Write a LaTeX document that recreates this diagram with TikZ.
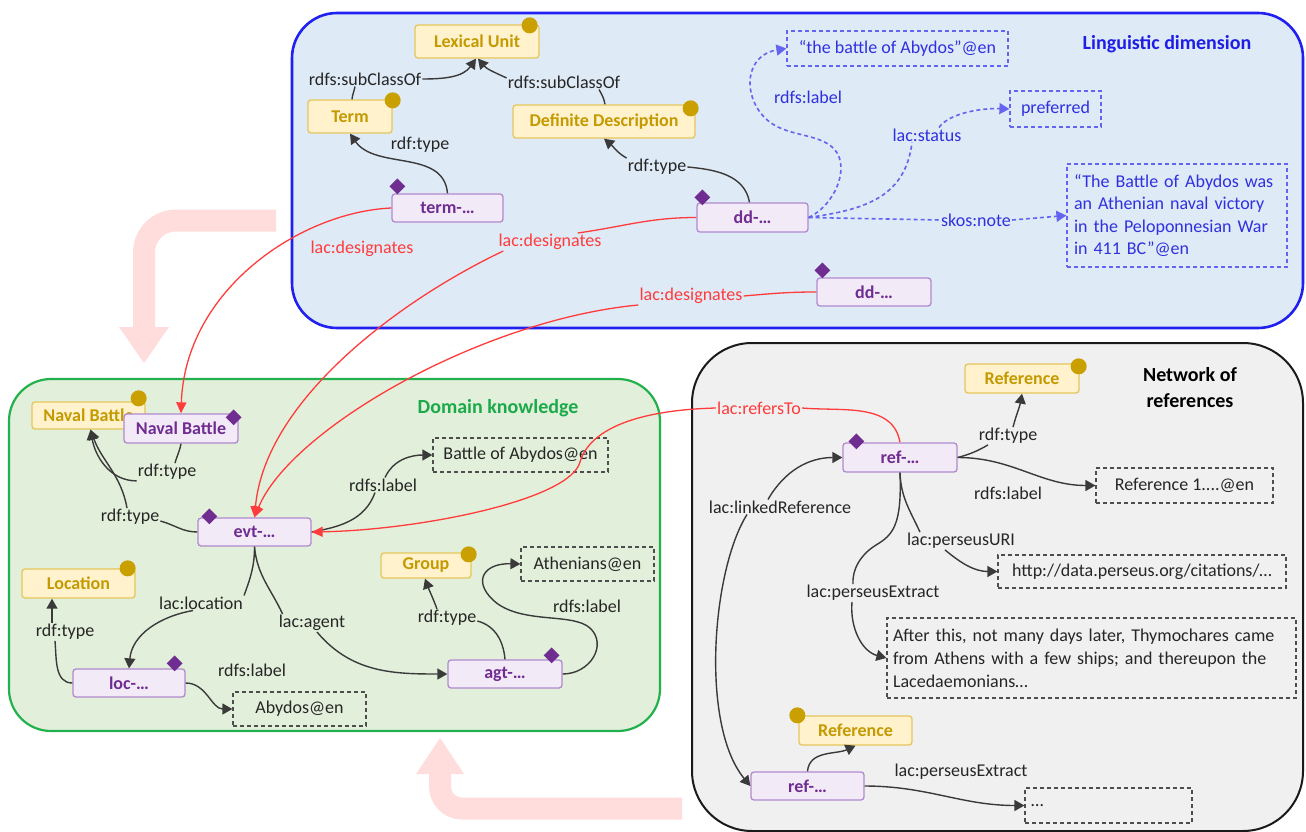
\documentclass[tikz,border=0pt]{standalone}
\usepackage{fontspec}
\setmainfont{Carlito}
\usetikzlibrary{arrows.meta,positioning,shapes.geometric}

\definecolor{lingfill}{HTML}{DEEAF6}
\definecolor{lingborder}{HTML}{2020F0}
\definecolor{lingtitle}{HTML}{1E1EE6}
\definecolor{domfill}{HTML}{E2EFDA}
\definecolor{domborder}{HTML}{22B14C}
\definecolor{domtitle}{HTML}{1AAA4A}
\definecolor{reffill}{HTML}{F0F0F0}
\definecolor{refborder}{HTML}{1A1A1A}
\definecolor{flowpink}{HTML}{FFDDDD}
\definecolor{classfill}{HTML}{FFF2CC}
\definecolor{classborder}{HTML}{E6C65C}
\definecolor{classtext}{HTML}{C49A00}
\definecolor{dotgold}{HTML}{C9A000}
\definecolor{indfill}{HTML}{F3EAF8}
\definecolor{indborder}{HTML}{B08ACF}
\definecolor{indtext}{HTML}{6F2C91}
\definecolor{diampurple}{HTML}{6F2C91}
\definecolor{edgegray}{HTML}{3A3A3A}
\definecolor{labeltext}{HTML}{262626}
\definecolor{litborder}{HTML}{4D4D4D}
\definecolor{desigred}{HTML}{FF3B3B}
\definecolor{lexblue}{HTML}{6464F0}
\definecolor{lexbluetext}{HTML}{3030E0}

\begin{document}
\begin{tikzpicture}[x=1pt,y=-1pt]
\tikzset{
  classnode/.style={draw=classborder,fill=classfill,line width=1.3pt,rounded corners=3pt,inner sep=2pt,font=\bfseries\fontsize{18}{21}\selectfont,text=classtext},
  indnode/.style={draw=indborder,fill=indfill,line width=1.3pt,rounded corners=3pt,inner sep=2pt,font=\bfseries\fontsize{18}{21}\selectfont,text=indtext},
  litnode/.style={draw=litborder,line width=1.2pt,dash pattern=on 4pt off 3pt,inner sep=2pt,font=\fontsize{18}{23}\selectfont,text=labeltext},
  lexlit/.style={litnode,draw=lexblue,text=lexbluetext},
  classdot/.style={circle,fill=dotgold,minimum size=16pt,inner sep=0pt},
  inddiam/.style={diamond,fill=diampurple,minimum size=16pt,inner sep=0pt},
  rellabel/.style={inner sep=1pt,font=\fontsize{18}{21}\selectfont,text=labeltext},
  desiglabel/.style={rellabel,text=desigred},
  lexlabel/.style={rellabel,text=lexbluetext},
  titlelabel/.style={font=\bfseries\fontsize{20}{26}\selectfont},
  relline/.style={draw=edgegray,line width=1.4pt},
  relarrow/.style={relline,-{Triangle[length=10pt,width=11pt]}},
  desigline/.style={draw=desigred,line width=1.3pt},
  desigarrow/.style={desigline,-{Triangle[length=11pt,width=10pt]}},
  lexline/.style={draw=lexblue,line width=1.6pt,dash pattern=on 4pt off 3pt},
  lexarrow/.style={lexline,-{Triangle[length=10pt,width=11pt]}},
  flowarrow/.style={draw=flowpink,line width=22pt}
}
\useasboundingbox (0,0) rectangle (1306,832);
\fill[white] (0,0) rectangle (1306,832);

% flow arrows
\draw[flowarrow,rounded corners=32pt] (276,220.5) -| (144,328);
\fill[flowpink] (119,327) -- (169,327) -- (144,363) -- cycle;
\draw[flowarrow,rounded corners=22pt] (682,808.5) -| (440,774);
\fill[flowpink] (416,774) -- (464,774) -- (440,738) -- cycle;

% areas
\draw[fill=lingfill,draw=lingborder,line width=2.6pt,rounded corners=45pt] (292,13) rectangle (1303,328);
\draw[fill=domfill,draw=domborder,line width=2.2pt,rounded corners=42pt] (9,379) rectangle (660,731);
\draw[fill=reffill,draw=refborder,line width=2pt,rounded corners=60pt] (692,343) rectangle (1303,831);
\node[titlelabel,text=lingtitle] (t_ling) at (1167,44) {Linguistic dimension};
\node[titlelabel,text=domtitle] (t_dom) at (498,408) {Domain knowledge};
\node[titlelabel,text=black,align=center] (t_ref) at (1190,388) {Network of\\references};

% linguistic dimension
\node[classnode,minimum width=124,minimum height=33] (n_lexunit) at (477,41.5) {Lexical Unit};
\node[classnode,minimum width=84,minimum height=33] (n_term) at (350,116.5) {Term};
\node[classnode,minimum width=182,minimum height=33] (n_defdesc) at (604,121.5) {Definite Description};
\node[indnode,minimum width=111,minimum height=28] (n_termind) at (447.5,208) {term-…};
\node[indnode,minimum width=111,minimum height=29] (n_dd1) at (752.5,217.5) {dd-…};
\node[indnode,minimum width=114,minimum height=28] (n_dd2) at (874,292) {dd-…};
\node[lexlit,minimum width=221,minimum height=35] (n_battlelbl) at (897.5,48.5) {“the battle of Abydos”@en};
\node[lexlit,minimum width=91,minimum height=36] (n_preferred) at (1055.5,109) {preferred};
\node[lexlit,text width=206,inner xsep=7,minimum height=103,align=left,font=\fontsize{18}{22.5}\selectfont] (n_note) at (1177,215.5) {“The Battle of Abydos was\\an Athenian naval victory\\in the Peloponnesian War\\in 411 BC”@en};

% domain knowledge
\node[classnode,minimum width=113,minimum height=27] (n_navalcls) at (88.5,415.5) {Naval Battle};
\node[classdot] (d_navalcls) at ([shift={(-7,-3)}]n_navalcls.north east) {};
\node[indnode,minimum width=114,minimum height=29] (n_navalind) at (181,428.5) {Naval Battle};
\node[indnode,minimum width=113,minimum height=28] (n_evt) at (254.5,532) {evt-…};
\node[classnode,minimum width=113,minimum height=29] (n_location) at (78.5,583.5) {Location};
\node[indnode,minimum width=112,minimum height=28] (n_loc) at (129,683) {loc-…};
\node[classnode,minimum width=90,minimum height=25] (n_group) at (426,565.5) {Group};
\node[indnode,minimum width=114,minimum height=28] (n_agt) at (505,674) {agt-…};
\node[litnode,minimum width=175,minimum height=34] (n_battlestr) at (520.5,455) {Battle of Abydos@en};
\node[litnode,minimum width=133,minimum height=34] (n_athenians) at (587.5,564) {Athenians@en};
\node[litnode,minimum width=133,minimum height=34] (n_abydos) at (299.5,709) {Abydos@en};

% network of references
\node[classnode,minimum width=114,minimum height=29] (n_refcls) at (1022,378.5) {Reference};
\node[indnode,minimum width=114,minimum height=29] (n_ref1) at (900,457.5) {ref-…};
\node[litnode,minimum width=177,minimum height=35] (n_refstr) at (1184.5,485.5) {Reference 1....@en};
\node[litnode,minimum width=288,minimum height=33] (n_uri) at (1142,571.5) {http://data.perseus.org/citations/…};
\node[litnode,text width=397,inner xsep=6,minimum height=80,align=left] (n_extract) at (1091.5,658) {After this, not many days later, Thymochares came\\from Athens with a few ships; and thereupon the\\Lacedaemonians…};
\node[classnode,minimum width=113,minimum height=29] (n_refcls2) at (855.5,730.5) {Reference};
\node[indnode,minimum width=113,minimum height=28] (n_ref2) at (807.5,786) {ref-…};
\node[litnode,text width=155,inner xsep=6,minimum height=35,align=left] (n_dots) at (1108.5,805.5) {…};

% class dots and individual diamonds
\node[classdot] (d_lexunit) at ([shift={(-10,1)}]n_lexunit.north east) {};
\node[classdot] (d_term) at ([shift={(0,1)}]n_term.north east) {};
\node[classdot] (d_defdesc) at ([shift={(-5,4)}]n_defdesc.north east) {};
\node[classdot] (d_location) at ([shift={(-8,0)}]n_location.north east) {};
\node[classdot] (d_group) at ([shift={(-3,2)}]n_group.north east) {};
\node[classdot] (d_refcls) at ([shift={(-1,3)}]n_refcls.north east) {};
\node[classdot] (d_refcls2) at ([shift={(-1,0)}]n_refcls2.north west) {};
\node[inddiam] (m_termind) at ([shift={(6,-7)}]n_termind.north west) {};
\node[inddiam] (m_dd1) at ([shift={(6,-5)}]n_dd1.north west) {};
\node[inddiam] (m_dd2) at ([shift={(6,-7)}]n_dd2.north west) {};
\node[inddiam] (m_navalind) at ([shift={(-5,4)}]n_navalind.north east) {};
\node[inddiam] (m_evt) at ([shift={(12,-1)}]n_evt.north west) {};
\node[inddiam] (m_loc) at ([shift={(-11,-5)}]n_loc.north east) {};
\node[inddiam] (m_agt) at ([shift={(-11,-4)}]n_agt.north east) {};
\node[inddiam] (m_ref1) at ([shift={(14,-1)}]n_ref1.north west) {};

% relation labels
\node[rellabel] (l_sub1) at (365,79) {rdfs:subClassOf};
\node[rellabel] (l_sub2) at (564,82) {rdfs:subClassOf};
\node[rellabel] (l_type1) at (420,145) {rdf:type};
\node[rellabel] (l_type2) at (657,167) {rdf:type};
\node[desiglabel] (l_des1) at (362,249) {lac:designates};
\node[desiglabel] (l_des2) at (550,242) {lac:designates};
\node[desiglabel] (l_des3) at (691,296) {lac:designates};
\node[lexlabel] (l_label) at (808,97) {rdfs:label};
\node[lexlabel] (l_status) at (927,135) {lac:status};
\node[lexlabel] (l_note) at (976,220) {skos:note};
\node[rellabel] (l_typeA) at (167,472) {rdf:type};
\node[rellabel] (l_typeB) at (130,517) {rdf:type};
\node[rellabel] (l_labelE) at (383,485) {rdfs:label};
\node[rellabel] (l_location) at (201,603) {lac:location};
\node[rellabel] (l_agent) at (312,623) {lac:agent};
\node[rellabel] (l_typeL) at (65,632) {rdf:type};
\node[rellabel] (l_labelL) at (252,670) {rdfs:label};
\node[rellabel] (l_typeG) at (447,618) {rdf:type};
\node[rellabel] (l_labelG) at (587,606) {rdfs:label};
\node[desiglabel] (l_refers) at (759,408) {lac:refersTo};
\node[rellabel] (l_typeR) at (1008,436) {rdf:type};
\node[rellabel] (l_labelR) at (1008,493) {rdfs:label};
\node[rellabel] (l_linked) at (780,507) {lac:linkedReference};
\node[rellabel] (l_uri) at (961,541) {lac:perseusURI};
\node[rellabel] (l_extract1) at (873,593) {lac:perseusExtract};
\node[rellabel] (l_extract2) at (961,772) {lac:perseusExtract};

% linguistic relations
\draw[relline] ([xshift=2]n_term.north) to[out=85,in=-100] ([xshift=-10]l_sub1.south);
\draw[relarrow] (l_sub1.east) to[out=0,in=-125] ([xshift=-1]n_lexunit.south);
\draw[relline] ([xshift=1]n_defdesc.north) to[out=100,in=-60] ([xshift=35]l_sub2.south);
\draw[relarrow] ([yshift=4pt]l_sub2.west) to[out=155,in=-50] ([xshift=1]n_lexunit.south);
\draw[relarrow] (n_termind.north) to[out=95,in=-55] (n_term.south);
\draw[relline] (l_type2.east) to[out=-5,in=100] ([xshift=-3]n_dd1.north);
\draw[relarrow] (l_type2.north west) to[out=150,in=-40] (n_defdesc.south);
\draw[lexarrow] (n_dd1.east) .. controls (835,205) and (850,168) .. (835,150) .. controls (820,132) and (785,138) .. (765,118) .. controls (742,95) and (745,55) .. (n_battlelbl.west);
\draw[lexline] (n_dd1.east) .. controls (860,210) and (905,200) .. ([xshift=-15]l_status.south);
\draw[lexarrow] ([xshift=12]l_status.north) .. controls (950,112) and (985,108) .. (n_preferred.west);
\draw[lexline] (n_dd1.east) -- (l_note.west);
\draw[lexarrow] (l_note.east) -- (n_note.west);

% domain relations
\draw[relline] (n_navalind.south) to[out=-100,in=75] ([xshift=8]l_typeA.north);
\draw[relarrow] (l_typeA.south west) to[out=180,in=-80] ([xshift=2]n_navalcls.south);
\draw[relline] (n_evt.west) to[out=180,in=-15] ([yshift=-4pt]l_typeB.east);
\draw[relarrow] ([xshift=-3]l_typeB.north) to[out=100,in=-70] ([xshift=2]n_navalcls.south);
\draw[relline] (n_evt.east) to[out=10,in=-110] ([xshift=-8]l_labelE.south);
\draw[relarrow] ([xshift=2]l_labelE.north) to[out=65,in=180] (n_battlestr.west);
\draw[relline] (n_evt.south) to[out=-90,in=70] (l_location.north east);
\draw[relline] (n_evt.south) to[out=-85,in=115] ([xshift=5]l_agent.north west);
\draw[relarrow] ([xshift=-8]l_location.south) to[out=190,in=85] (n_loc.north);
\draw[relarrow] ([xshift=5]l_agent.south) to[out=-50,in=180] (n_agt.west);
\draw[relline] (n_agt.north) to[out=95,in=-15] ([yshift=-3pt]l_typeG.east);
\draw[relarrow] ([xshift=-10]l_typeG.north) to[out=110,in=-70] ([xshift=-1]n_group.south);
\draw[relarrow] (n_agt.east) .. controls (590,674) and (608,645) .. (590,628) .. controls (572,612) and (520,625) .. (493,600) .. controls (472,580) and (485,563) .. (n_athenians.west);
\draw[relline] (n_loc.west) to[out=180,in=-85] ([xshift=-10]l_typeL.south);
\draw[relarrow] ([xshift=-13]l_typeL.north) -- ([xshift=-26.5]n_location.south);
\draw[relarrow] (n_loc.east) to[out=0,in=180] (n_abydos.west);

% reference relations
\draw[relline] (n_ref1.east) to[out=15,in=-150] ([xshift=-20]l_typeR.south);
\draw[relarrow] ([xshift=5]l_typeR.north) to[out=75,in=-100] (n_refcls.south);
\draw[relarrow] (n_ref1.east) to[out=0,in=180] (n_refstr.west);
\draw[relline] (n_ref1.south) to[out=-88,in=115] ([xshift=-41]l_uri.north);
\draw[relline] (n_ref1.south) .. controls (902,525) and (893,535) .. (876,545) .. controls (860,555) and (852,570) .. ([xshift=-20]l_extract1.north);
\draw[relarrow] ([xshift=-16]l_uri.south) to[out=-40,in=180] (n_uri.west);
\draw[relarrow] ([xshift=-21]l_extract1.south) to[out=-95,in=165] (n_extract.west);
\draw[relarrow] ([xshift=-12]l_linked.north) to[out=60,in=180] (n_ref1.west);
\draw[relarrow] ([xshift=-33]l_linked.south) .. controls (712,570) and (700,725) .. (n_ref2.west);
\draw[relarrow] (n_ref2.north) to[out=85,in=-155] (n_refcls2.south);
\draw[relarrow] (n_ref2.east) to[out=0,in=180] (n_dots.west);

% designation links
\draw[desigarrow] (n_termind.west) .. controls (300,212) and (185,290) .. (n_navalind.north);
\draw[desigline] (n_dd1.west) to[out=180,in=8] ([xshift=-25]l_des2.north east);
\draw[desigarrow] ([xshift=6]l_des2.south west) .. controls (400,300) and (265,400) .. (n_evt.north);
\draw[desigline] (n_dd2.west) to[out=180,in=5] (l_des3.east);
\draw[desigarrow] (l_des3.south west) .. controls (480,320) and (290,430) .. (n_evt.north);
\draw[desigline] (n_ref1.north) to[out=100,in=-5] (l_refers.east);
\draw[desigarrow] (l_refers.west) .. controls (640,410) and (590,428) .. (580,462) .. controls (570,500) and (420,530) .. (n_evt.east);
\end{tikzpicture}
\end{document}
